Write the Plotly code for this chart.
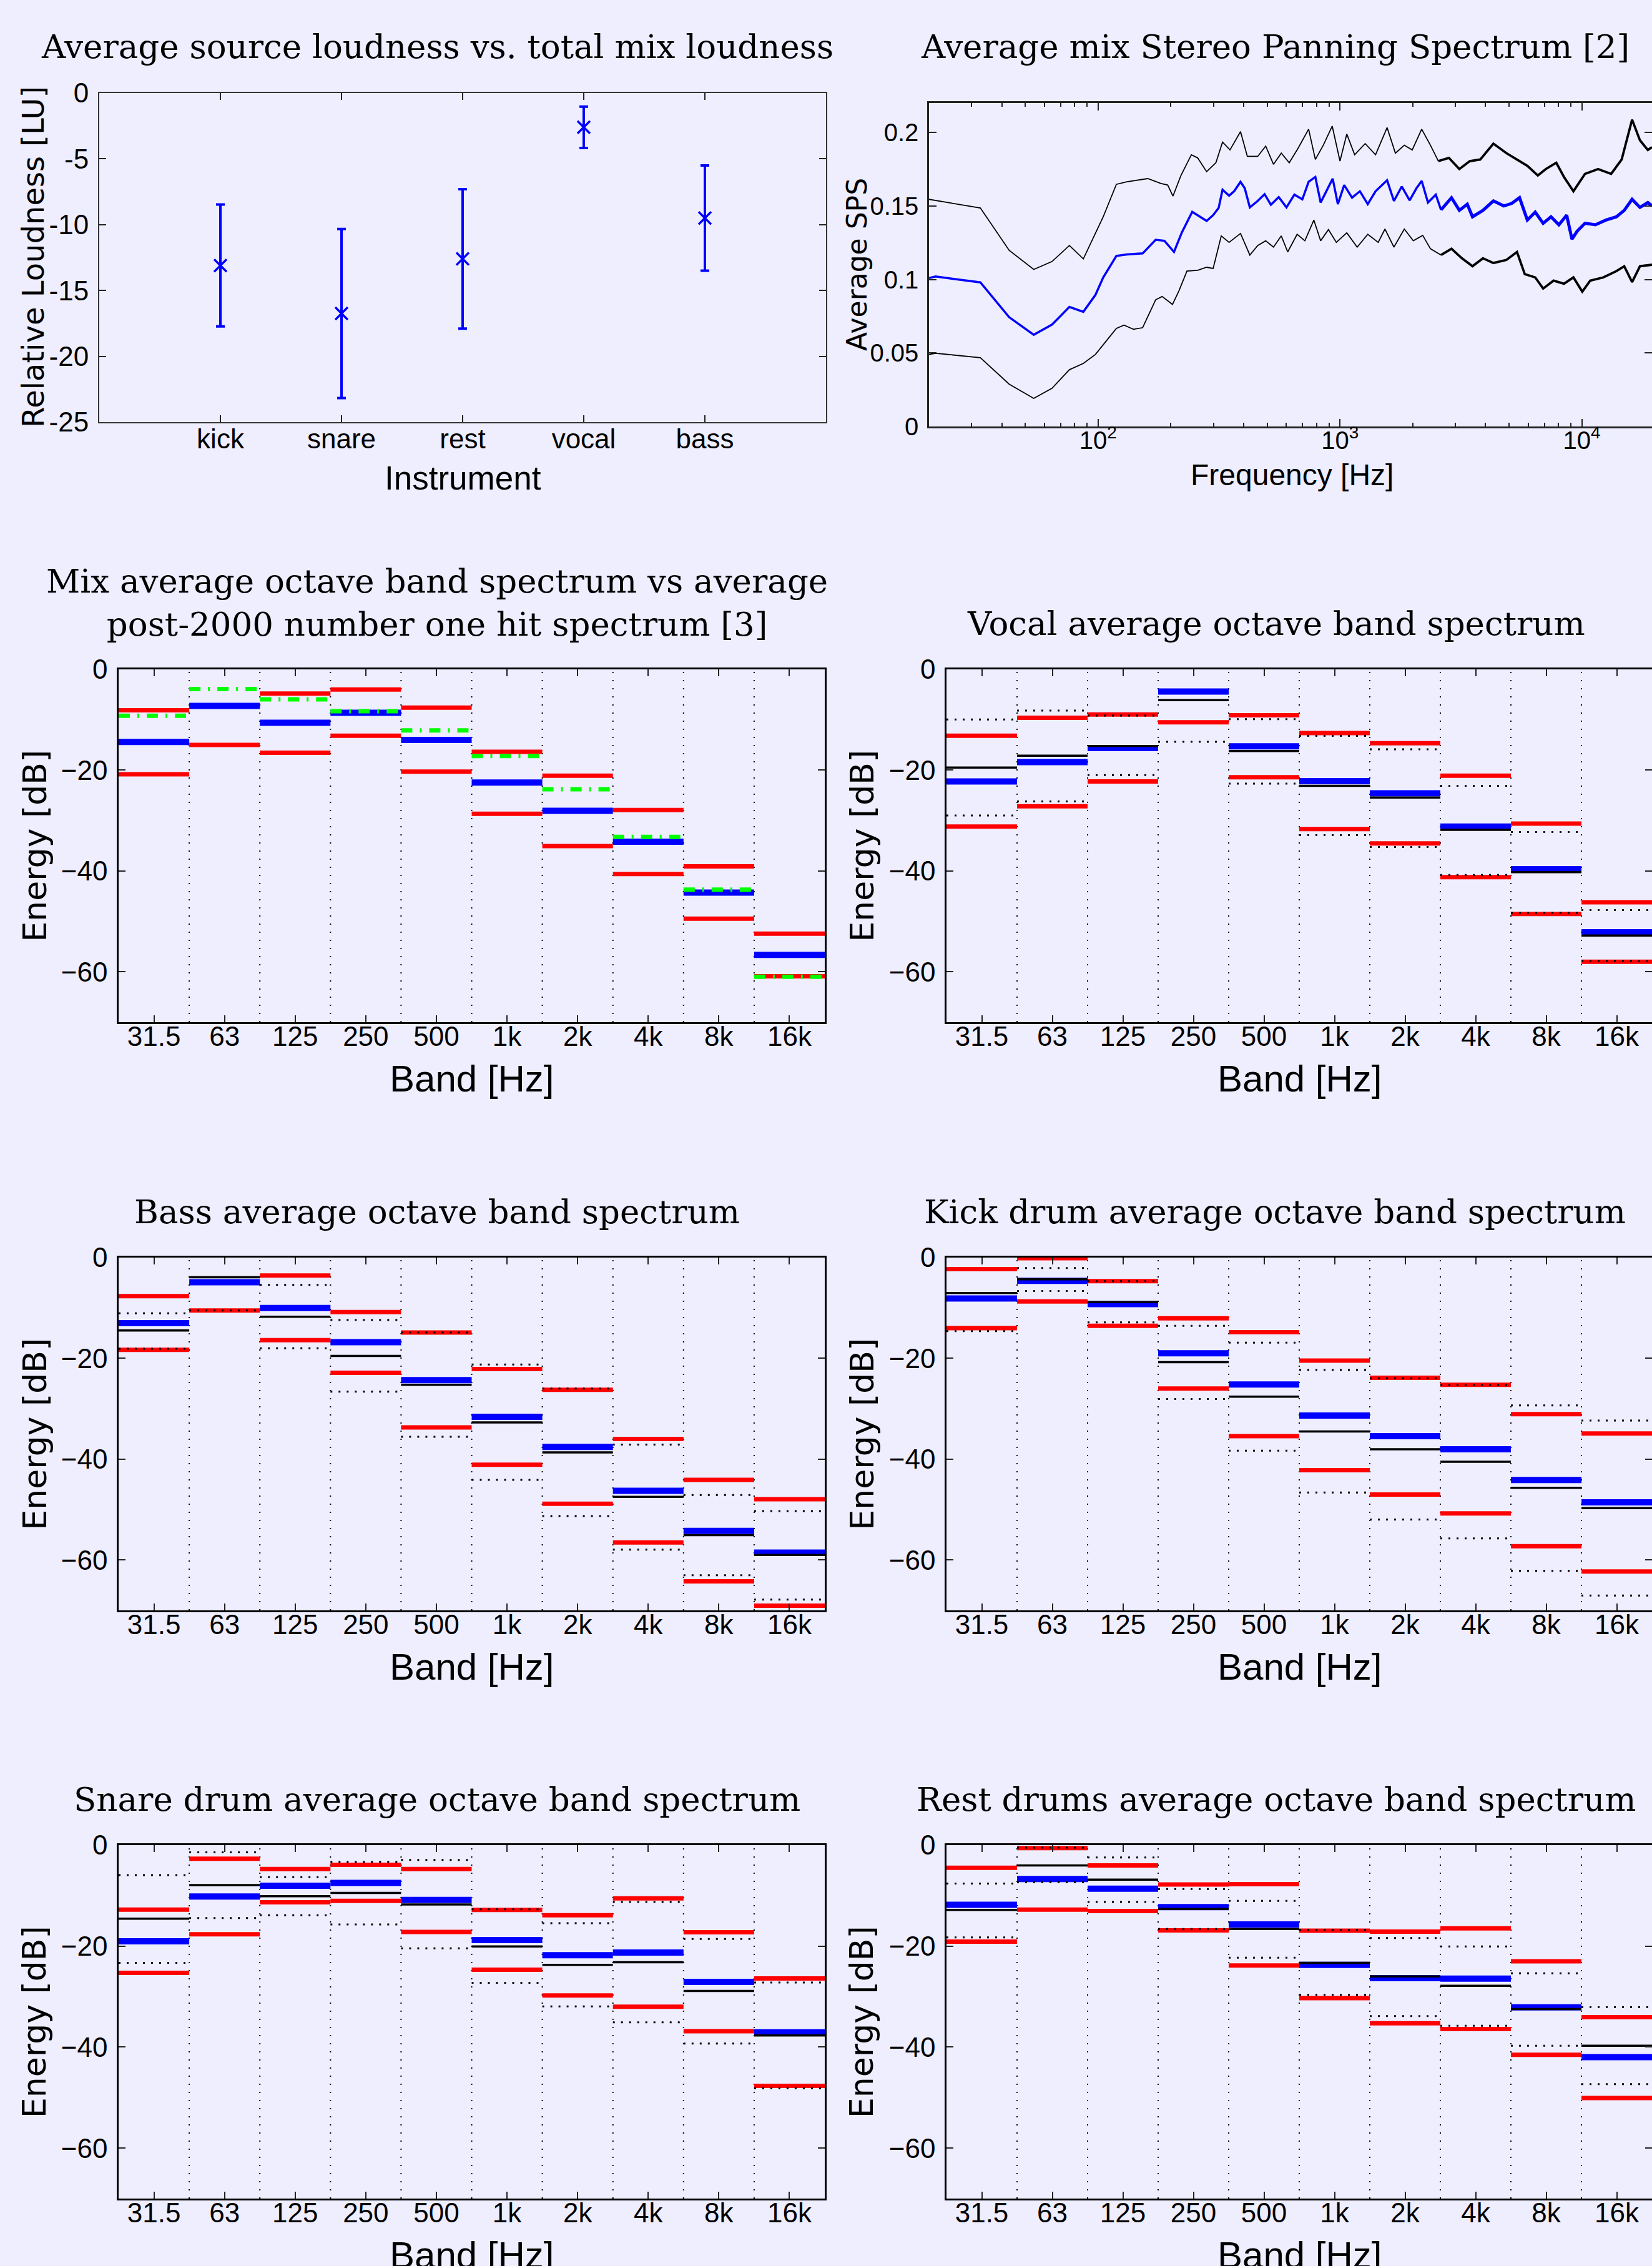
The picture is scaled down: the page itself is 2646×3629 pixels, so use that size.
import plotly.graph_objects as go

W, H = 2646, 3629
BG = "rgb(238,238,255)"

# ---------------- Panel 1: loudness ----------------
instruments = ["kick", "snare", "rest", "vocal", "bass"]
loudness_mean = [-13.1, -16.75, -12.6, -2.6, -9.5]
loudness_std = [4.63, 6.42, 5.3, 1.57, 4.0]

# ---------------- Panel 2: stereo panning spectrum ----------------
sps_mean_f = [20, 21.3, 32.6, 42.9, 54.2, 64.5, 76.1, 86.9, 97.5, 105, 119, 131.6, 152.8, 173, 188, 206,
              222, 245, 281, 299, 315, 327, 348, 365, 388, 404, 424, 457, 488, 518, 558, 601, 648, 699,
              742, 791, 832, 888, 933, 980, 1041, 1122, 1209, 1303, 1403, 1566, 1671, 1800, 1941, 2071,
              2177, 2311, 2490, 2617, 2891, 3116, 3360, 3531, 3900, 4308, 4757, 5128, 5526, 5951, 6416,
              6918, 7454, 8035, 8655, 9100, 9560, 10300, 11380, 12580, 13900, 14970, 16130, 17390,
              18740, 19500]
sps_mean = [0.101, 0.102, 0.098, 0.0743, 0.0624, 0.0693, 0.0813, 0.078, 0.0895, 0.1014, 0.116, 0.117,
            0.1177, 0.127, 0.1263, 0.1187, 0.132, 0.146, 0.1398, 0.1437, 0.1486, 0.161, 0.157, 0.16,
            0.1664, 0.162, 0.149, 0.1534, 0.158, 0.1508, 0.156, 0.149, 0.1577, 0.1545, 0.1664, 0.1697,
            0.1523, 0.162, 0.1686, 0.1512, 0.1642, 0.1556, 0.16, 0.1512, 0.16, 0.1675, 0.1534, 0.1632,
            0.1538, 0.162, 0.167, 0.1523, 0.1577, 0.1473, 0.1556, 0.147, 0.1512, 0.1426, 0.147, 0.1534,
            0.150, 0.1517, 0.1556, 0.1404, 0.1458, 0.1382, 0.1426, 0.1372, 0.1437, 0.1274, 0.1328,
            0.1382, 0.1372, 0.1404, 0.1426, 0.147, 0.1545, 0.149, 0.1523, 0.150]

sps_upper_f = [20, 32.6, 42.9, 54.2, 64.5, 76.1, 86.9, 105, 119, 131.6, 160.5, 182, 194, 204, 220, 243,
               258, 281, 307, 327, 351, 388, 414, 457, 493, 531, 572, 617, 671, 742, 791, 853, 929,
               1000, 1067, 1150, 1271, 1403, 1566, 1695, 1845, 1989, 2177, 2366, 2551, 2819, 3116,
               3441, 3803, 4308, 4876, 5394, 5951, 6577, 7096, 7838, 8437, 9230, 10300, 11670, 13220,
               14610, 16130, 17390, 18740, 19500]
sps_upper = [0.1545, 0.1486, 0.1198, 0.1068, 0.1122, 0.1231, 0.114, 0.1426, 0.1647, 0.1664, 0.1686,
             0.1653, 0.1642, 0.1567, 0.1707, 0.1848, 0.1827, 0.1733, 0.1794, 0.1935, 0.1881, 0.2006,
             0.1837, 0.1837, 0.1907, 0.1783, 0.1859, 0.1794, 0.1892, 0.2022, 0.1816, 0.1913, 0.2043,
             0.1805, 0.1989, 0.1848, 0.1924, 0.1848, 0.2033, 0.1859, 0.1913, 0.1881, 0.2022, 0.1913,
             0.1805, 0.1827, 0.1751, 0.1805, 0.1816, 0.1924, 0.1859, 0.1816, 0.1773, 0.1707, 0.1751,
             0.1794, 0.1697, 0.16, 0.1718, 0.1751, 0.1718, 0.1816, 0.2087, 0.1946, 0.1881, 0.19]

sps_lower_f = [20, 21.3, 32.6, 42.9, 54.2, 64.5, 76.1, 86.9, 97.5, 119, 128, 140, 152.8, 173, 184, 203,
               216, 233, 258, 281, 299, 323, 348, 388, 424, 457, 493, 531, 572, 608, 665, 716, 780, 832,
               896, 966, 1067, 1178, 1303, 1439, 1535, 1671, 1845, 2010, 2198, 2366, 2617, 2891, 3190,
               3531, 3900, 4308, 4876, 5394, 5808, 6416, 6918, 7638, 8437, 9230, 10040, 10830, 12270,
               13900, 14970, 16130, 17390, 19500]
sps_lower = [0.049, 0.0498, 0.0468, 0.0288, 0.0191, 0.026, 0.0386, 0.0429, 0.049, 0.0667, 0.0689,
             0.0661, 0.0672, 0.0862, 0.0884, 0.083, 0.0923, 0.1057, 0.1062, 0.1083, 0.1075, 0.1296,
             0.1252, 0.1313, 0.1166, 0.1231, 0.1263, 0.122, 0.1296, 0.1187, 0.1307, 0.1263, 0.1404,
             0.1263, 0.1339, 0.1252, 0.1317, 0.122, 0.1307, 0.1252, 0.1343, 0.122, 0.1343, 0.1263,
             0.13, 0.1209, 0.1166, 0.1209, 0.1144, 0.109, 0.1144, 0.1112, 0.1133, 0.1187, 0.1036,
             0.1014, 0.0938, 0.0992, 0.0971, 0.1014, 0.0917, 0.0992, 0.1014, 0.1057, 0.109, 0.0982,
             0.109, 0.11]

# above this frequency the measured curves are dense/noisy and render as a thicker band
NOISY_FROM_HZ = 2500

# ---------------- Octave band panels ----------------
bands = ["31.5", "63", "125", "250", "500", "1k", "2k", "4k", "8k", "16k"]

mix_red_hi = [-8.1, None, -4.8, -4.0, -7.6, -16.35, -21.1, -27.9, -39.1, -52.45]
mix_red_lo = [-20.8, -15.0, -16.55, -13.15, -20.3, -28.65, -35.05, -40.6, -49.45, -60.9]
mix_mean = [-14.4, -7.25, -10.6, -8.6, -14.0, -22.45, -28.05, -34.2, -44.3, -56.65]
hit_reference = [-9.2, -3.9, -5.95, -8.3, -12.1, -17.2, -23.8, -33.25, -43.7, -61.0]

vocal_red_hi = [-13.15, -9.6, -8.96, None, -9.1, -12.65, -14.64, -21.1, -30.6, -46.2]
vocal_red_lo = [-31.2, -27.15, -22.25, -10.5, -21.4, -31.7, -34.54, -41.22, -48.54, -58.0]
vocal_mean = [-22.25, -18.4, -15.6, -4.4, -15.28, -22.17, -24.6, -31.2, -39.66, -52.17]
vocal_median = [-19.47, -17.13, -15.2, -6.1, -16.2, -23.1, -25.44, -31.84, -40.23, -52.8]
vocal_dot_hi = [-9.95, -8.17, -9.17, None, -9.88, -13.2, -15.85, -23.1, -32.27, -47.76]
vocal_dot_lo = [-29.0, -26.2, -20.97, -14.36, -22.67, -32.9, -35.25, -40.8, -48.33, -57.85]

bass_red_hi = [-7.64, None, -3.55, -10.8, -14.87, -22.1, -26.25, -36.0, -44.1, -47.96]
bass_red_lo = [-18.3, -10.5, -16.4, -22.85, -33.7, -41.1, -48.83, -56.53, -64.23, -69.06]
bass_mean = [-13.0, -4.9, -10.0, -16.8, -24.3, -31.6, -37.57, -46.28, -54.25, -58.54]
bass_median = [-14.47, -3.89, -11.74, -19.5, -25.25, -32.7, -38.65, -47.49, -55.06, -59.0]
bass_dot_hi = [-11.05, None, -5.43, -12.4, -14.87, -21.23, -25.99, -37.1, -47.1, -50.3]
bass_dot_lo = [-18.1, -10.5, -18.0, -26.6, -35.56, -44.1, -51.3, -57.94, -63.03, -67.85]

kick_red_hi = [-2.28, -0.13, -4.69, -12.06, -14.8, -20.43, -23.84, -25.25, -31.08, -34.9]
kick_red_lo = [-14.0, -8.7, -13.53, -25.99, -35.43, -42.2, -47.02, -50.77, -57.27, -62.29]
kick_mean = [-8.1, -4.6, -9.24, -19.0, -25.18, -31.35, -35.43, -38.04, -44.14, -48.56]
kick_median = [-7.03, -4.29, -8.84, -20.76, -27.6, -34.49, -38.04, -40.52, -45.68, -49.7]
kick_dot_hi = [None, -2.08, -4.69, -13.53, -16.88, -22.3, -23.98, -25.32, -29.34, -32.35]
kick_dot_lo = [-14.6, -6.63, -12.86, -28.06, -38.31, -46.62, -51.98, -55.73, -62.16, -67.05]

snare_red_hi = [-12.78, -2.68, -4.73, -3.9, -4.73, -12.84, -13.87, -10.54, -17.25, -26.39]
snare_red_lo = [-25.3, -17.64, -11.31, -11.05, -17.19, -24.66, -29.78, -32.01, -36.87, -47.67]
snare_mean = [-19.04, -10.16, -8.05, -7.48, -10.86, -18.79, -21.79, -21.28, -27.09, -37.06]
snare_median = [-14.57, -7.92, -10.1, -9.46, -11.76, -20.06, -23.71, -23.19, -28.88, -37.7]
snare_dot_hi = [-5.94, -1.41, -6.33, -3.32, -2.94, -12.72, -15.46, -11.25, -18.59, -27.22]
snare_dot_lo = [-23.32, -14.44, -13.87, -15.72, -20.45, -27.28, -31.95, -35.08, -39.3, -48.18]

rest_red_hi = [-4.47, -0.58, -4.03, -7.8, -7.73, -16.93, -17.12, -16.49, -23.0, -34.06]
rest_red_lo = [-19.1, -12.78, -13.04, -16.87, -23.83, -30.29, -35.27, -36.42, -41.53, -50.1]
rest_mean = [-11.82, -6.71, -8.63, -12.27, -15.72, -23.71, -26.33, -26.45, -32.14, -41.98]
rest_median = [-12.84, -4.03, -6.84, -12.65, -16.61, -23.32, -26.0, -27.86, -32.46, -39.74]
rest_dot_hi = [-7.6, -0.5, -2.43, -8.69, -11.05, -16.75, -18.4, -20.06, -25.37, -32.08]
rest_dot_lo = [-18.27, -7.35, -11.25, -16.61, -22.3, -29.65, -33.87, -35.78, -39.74, -47.35]

ENERGY_RANGE = [-70, 0]


# ---------------- helpers ----------------
def dom_x(x0, x1):
    return [x0 / W, min(x1 / W, 1.0)]


def dom_y(y0, y1):
    return [1 - y1 / H, 1 - y0 / H]


def px(x):
    return x / W


def py(y):
    return 1 - y / H


def band_segments(vals):
    xs, ys = [], []
    for i, v in enumerate(vals, start=1):
        if v is None:
            continue
        xs += [i - 0.5, i + 0.5, None]
        ys += [v, v, None]
    return xs, ys


def split_at(freqs, vals, f_split):
    k = next(i for i, f in enumerate(freqs) if f >= f_split)
    return (freqs[:k + 1], vals[:k + 1]), (freqs[k:], vals[k:])


TICKFONT = dict(family="Liberation Sans", size=44, color="black")


def axis_style(**kw):
    d = dict(showline=True, linecolor="black", linewidth=2.5, mirror="ticks", ticks="inside",
             ticklen=11, tickwidth=2, tickcolor="#222", showgrid=False, zeroline=False,
             automargin=False, tickfont=TICKFONT)
    d.update(kw)
    return d


fig = go.Figure()
layout = dict(width=W, height=H, autosize=False, margin=dict(l=0, r=0, t=0, b=0, pad=0),
              paper_bgcolor=BG, plot_bgcolor=BG, showlegend=False, annotations=[])


def add_title(text, x, y, size=53):
    layout["annotations"].append(dict(text=text, x=px(x), y=py(y), xref="paper", yref="paper",
                                      showarrow=False, xanchor="center", yanchor="middle",
                                      font=dict(family="DejaVu Serif", size=size, color="black")))


def add_xtitle(text, x, y, size):
    layout["annotations"].append(dict(text=text, x=px(x), y=py(y), xref="paper", yref="paper",
                                      showarrow=False, xanchor="center", yanchor="middle",
                                      font=dict(family="Liberation Sans", size=size, color="black")))


def add_ytitle(text, x, y, size):
    layout["annotations"].append(dict(text=text, x=px(x), y=py(y), xref="paper", yref="paper",
                                      showarrow=False, xanchor="center", yanchor="middle",
                                      textangle=-90,
                                      font=dict(family="DejaVu Sans", size=size, color="black")))


# ---------------- Panel 1 ----------------
fig.add_trace(go.Scatter(
    x=instruments, y=loudness_mean, mode="markers", xaxis="x", yaxis="y",
    marker=dict(symbol="x-thin", size=20, color="blue", line=dict(width=3.5, color="blue")),
    error_y=dict(type="data", array=loudness_std, symmetric=True, color="blue", thickness=4, width=7)))
layout["xaxis"] = axis_style(domain=dom_x(159, 1323), type="category", range=[-1, 5], anchor="y",
                             linecolor="#333", linewidth=2, ticklabelstandoff=-13)
layout["yaxis"] = axis_style(domain=dom_y(149, 676), range=[-25, 0], anchor="x",
                             tickvals=[0, -5, -10, -15, -20, -25],
                             ticktext=["0", "-5", "-10", "-15", "-20", "-25"],
                             linecolor="#333", linewidth=2, ticklabelstandoff=6)
add_title("Average source loudness vs. total mix loudness", 700, 74)
add_xtitle("Instrument", 741, 765, 53)
add_ytitle("Relative Loudness [LU]", 53, 412, 48)

# ---------------- Panel 2 ----------------
for f_arr, v_arr, col, w_lo, w_hi in [(sps_upper_f, sps_upper, "black", 1.8, 3.8),
                                       (sps_lower_f, sps_lower, "black", 1.8, 3.8),
                                       (sps_mean_f, sps_mean, "blue", 3.5, 5.0)]:
    (fa, va), (fb, vb) = split_at(f_arr, v_arr, NOISY_FROM_HZ)
    fig.add_trace(go.Scatter(x=fa, y=va, mode="lines", xaxis="x2", yaxis="y2",
                             line=dict(color=col, width=w_lo)))
    fig.add_trace(go.Scatter(x=fb, y=vb, mode="lines", xaxis="x2", yaxis="y2",
                             line=dict(color=col, width=w_hi)))

minor_vals = [m * d for d in (10, 100, 1000) for m in range(2, 10)] + [20000]
layout["xaxis2"] = axis_style(domain=dom_x(1488, 2646), type="log", range=[1.301, 4.29], anchor="y2",
                              tickvals=[100, 1000, 10000],
                              ticktext=["10<sup>2</sup>", "10<sup>3</sup>", "10<sup>4</sup>"],
                              linecolor="#222", ticklen=12,
                              minor=dict(tickvals=minor_vals, ticks="inside", ticklen=6,
                                         tickcolor="#222", tickwidth=2),
                              tickfont=dict(family="Liberation Sans", size=40, color="black"),
                              ticklabelstandoff=-15)
layout["yaxis2"] = axis_style(domain=dom_y(165, 683), range=[0, 0.22], anchor="x2",
                              tickvals=[0, 0.05, 0.1, 0.15, 0.2],
                              ticktext=["0", "0.05", "0.1", "0.15", "0.2"], linecolor="#222",
                              ticklen=12,
                              tickfont=dict(family="Liberation Sans", size=40, color="black"),
                              ticklabelstandoff=6)
add_title("Average mix Stereo Panning Spectrum [2]", 2042, 74)
add_xtitle("Frequency [Hz]", 2069, 760, 48)
add_ytitle("Average SPS", 1372, 424, 44)

# ---------------- Octave band panels ----------------
panels = [
    dict(n=3, box=(190, 1321, 1072, 1637), ytx=55,
         title="Mix average octave band spectrum vs average<br>post-2000 number one hit spectrum [3]",
         ttl=(700, 965), mean=mix_mean, red_hi=mix_red_hi, red_lo=mix_red_lo, median=None,
         dot_hi=None, dot_lo=None, ref=hit_reference),
    dict(n=4, box=(1516, 2646, 1072, 1637), ytx=1380, title="Vocal average octave band spectrum",
         ttl=(2044, 998), mean=vocal_mean, red_hi=vocal_red_hi, red_lo=vocal_red_lo,
         median=vocal_median, dot_hi=vocal_dot_hi, dot_lo=vocal_dot_lo, ref=None),
    dict(n=5, box=(190, 1321, 2014, 2579), ytx=55, title="Bass average octave band spectrum",
         ttl=(700, 1940), mean=bass_mean, red_hi=bass_red_hi, red_lo=bass_red_lo,
         median=bass_median, dot_hi=bass_dot_hi, dot_lo=bass_dot_lo, ref=None),
    dict(n=6, box=(1516, 2646, 2014, 2579), ytx=1380, title="Kick drum average octave band spectrum",
         ttl=(2042, 1940), mean=kick_mean, red_hi=kick_red_hi, red_lo=kick_red_lo,
         median=kick_median, dot_hi=kick_dot_hi, dot_lo=kick_dot_lo, ref=None),
    dict(n=7, box=(190, 1321, 2955, 3521), ytx=55, title="Snare drum average octave band spectrum",
         ttl=(700, 2881), mean=snare_mean, red_hi=snare_red_hi, red_lo=snare_red_lo,
         median=snare_median, dot_hi=snare_dot_hi, dot_lo=snare_dot_lo, ref=None),
    dict(n=8, box=(1516, 2646, 2955, 3521), ytx=1380, title="Rest drums average octave band spectrum",
         ttl=(2044, 2881), mean=rest_mean, red_hi=rest_red_hi, red_lo=rest_red_lo,
         median=rest_median, dot_hi=rest_dot_hi, dot_lo=rest_dot_lo, ref=None),
]

for p in panels:
    n = p["n"]
    xa, ya = f"x{n}", f"y{n}"
    x0, x1, y0, y1 = p["box"]
    # vertical dotted band separators
    gx, gy = [], []
    for i in range(1, len(bands)):
        gx += [i + 0.5, i + 0.5, None]
        gy += [ENERGY_RANGE[0], ENERGY_RANGE[1], None]
    fig.add_trace(go.Scatter(x=gx, y=gy, mode="lines", xaxis=xa, yaxis=ya,
                             line=dict(color="black", width=2, dash="2px,11px")))

    def add(vals, color, width, dash="solid"):
        if vals is None:
            return
        sx, sy = band_segments(vals)
        fig.add_trace(go.Scatter(x=sx, y=sy, mode="lines", xaxis=xa, yaxis=ya,
                                 line=dict(color=color, width=width, dash=dash)))

    add(p["mean"], "blue", 10)
    add(p["red_hi"], "red", 7)
    add(p["red_lo"], "red", 7)
    add(p["median"], "black", 3.5)
    add(p["dot_hi"], "black", 3, "3px,10px")
    add(p["dot_lo"], "black", 3, "3px,10px")
    add(p["ref"], "rgb(0,255,0)", 7, "18px,12px,3px,12px")

    layout[f"xaxis{n}"] = axis_style(domain=dom_x(x0, x1), range=[0.5, 10.5], anchor=ya,
                                     tickvals=list(range(1, len(bands) + 1)), ticktext=bands,
                                     ticklabelstandoff=-18)
    layout[f"yaxis{n}"] = axis_style(domain=dom_y(y0, y1), range=ENERGY_RANGE, anchor=xa,
                                     tickvals=[0, -20, -40, -60],
                                     ticktext=["0", "\u221220", "\u221240", "\u221260"],
                                     ticklabelstandoff=6)
    add_title(p["title"], p["ttl"][0], p["ttl"][1])
    add_xtitle("Band [Hz]", (x0 + x1) / 2, y1 + 90, 60)
    add_ytitle("Energy [dB]", p["ytx"], (y0 + y1) / 2, 52)

fig.update_layout(**layout)
fig.write_html("out.html", config={"displayModeBar": False},
               post_script="document.body.style.margin='0';document.body.style.overflow='hidden';")
